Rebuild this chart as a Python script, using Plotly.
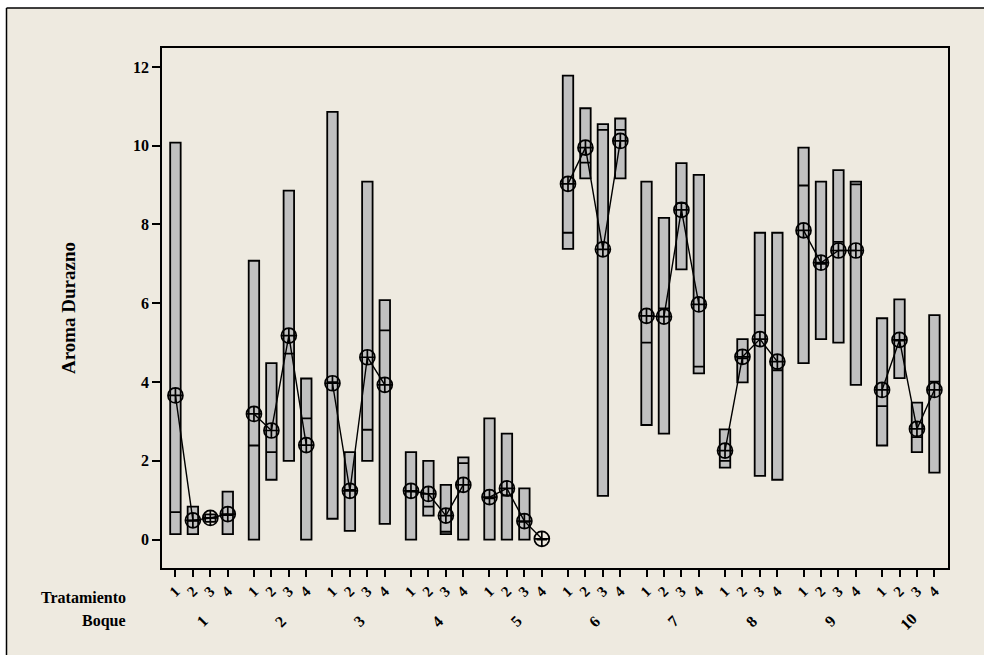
import plotly.graph_objects as go

# ---- data ----
boques = ["1", "2", "3", "4", "5", "6", "7", "8", "9", "10"]
tratamientos = ["1", "2", "3", "4"]

# per Boque, per Tratamiento: box low (Q1/min), median, box high (Q3/max), mean
low = [
    [0.14, 0.14, 0.45, 0.14],
    [0.00, 1.52, 2.00, 0.00],
    [0.53, 0.22, 2.00, 0.40],
    [0.00, 0.61, 0.14, 0.00],
    [0.00, 0.00, 0.00, 0.00],
    [7.38, 9.17, 1.11, 9.17],
    [2.91, 2.69, 6.86, 4.22],
    [1.83, 3.99, 1.62, 1.52],
    [4.48, 5.09, 5.00, 3.93],
    [2.39, 4.10, 2.22, 1.70],
]
median = [
    [0.70, 0.48, 0.55, 0.62],
    [2.39, 2.22, 4.72, 3.08],
    [4.00, 1.26, 2.79, 5.31],
    [1.22, 0.84, 0.20, 1.94],
    [1.05, 1.12, 0.45, 0.00],
    [7.79, 9.57, 10.40, 10.40],
    [5.00, 5.87, 8.54, 4.39],
    [2.00, 4.60, 5.70, 4.30],
    [8.99, 7.00, 7.56, 9.02],
    [3.39, 5.05, 2.60, 4.01],
]
high = [
    [10.08, 0.84, 0.64, 1.22],
    [7.08, 4.48, 8.86, 4.09],
    [10.86, 2.22, 9.09, 6.08],
    [2.22, 2.00, 1.39, 2.09],
    [3.08, 2.69, 1.30, 0.00],
    [11.78, 10.95, 10.55, 10.69],
    [9.09, 8.17, 9.56, 9.26],
    [2.80, 5.09, 7.79, 7.79],
    [9.95, 9.09, 9.38, 9.09],
    [5.62, 6.10, 3.48, 5.70],
]
mean = [
    [3.66, 0.49, 0.55, 0.65],
    [3.19, 2.77, 5.18, 2.40],
    [3.97, 1.24, 4.63, 3.93],
    [1.24, 1.16, 0.61, 1.39],
    [1.08, 1.30, 0.47, 0.02],
    [9.03, 9.95, 7.37, 10.12],
    [5.68, 5.66, 8.37, 5.97],
    [2.26, 4.64, 5.09, 4.52],
    [7.85, 7.03, 7.34, 7.34],
    [3.80, 5.07, 2.81, 3.80],
]
y_ticks = [0, 2, 4, 6, 8, 10, 12]

# ---- layout helpers ----
GROUP_STEP = 4.5
nT = len(tratamientos)
xpos, q1s, meds, q3s, ticktext = [], [], [], [], []
for g in range(len(boques)):
    for k in range(nT):
        xpos.append(g * GROUP_STEP + k)
        q1s.append(low[g][k])
        meds.append(median[g][k])
        q3s.append(high[g][k])
        ticktext.append(tratamientos[k])

FONT = "Liberation Serif"
BEIGE = "#EEEAE0"

fig = go.Figure()
fig.add_trace(go.Box(
    x=xpos, q1=q1s, median=meds, q3=q3s, lowerfence=q1s, upperfence=q3s,
    width=0.6, whiskerwidth=0, fillcolor="#C0C0C0",
    line=dict(color="black", width=1.8), boxpoints=False, showlegend=False,
    hoverinfo="skip",
))

mx, my = [], []
for g in range(len(boques)):
    for k in range(nT):
        mx.append(g * GROUP_STEP + k)
        my.append(mean[g][k])
    mx.append(None)
    my.append(None)
fig.add_trace(go.Scatter(
    x=mx, y=my, mode="lines+markers",
    line=dict(color="black", width=1.4),
    marker=dict(symbol="circle-cross-open", size=15, color="black",
                line=dict(width=1.7, color="black")),
    showlegend=False, connectgaps=False,
))

L, R, T, B = 162, 36, 48, 87
W, H = 984, 655
pw, ph = W - L - R, H - T - B

def px_x(p):
    return (p - L) / pw

def px_y(p):
    return (H - B - p) / ph

annotations = []
for g, name in enumerate(boques):
    annotations.append(dict(
        x=g * GROUP_STEP + (nT - 1) / 2, xref="x", y=px_y(621), yref="paper",
        text=name, showarrow=False, textangle=-45,
        font=dict(family=FONT, size=16, color="black", weight="bold"),
        xanchor="center", yanchor="middle",
    ))
annotations.append(dict(
    x=px_x(128), xref="paper", y=px_y(597), yref="paper", text="Tratamiento",
    showarrow=False, xanchor="right", yanchor="middle",
    font=dict(family=FONT, size=16, color="black", weight="bold"),
))
annotations.append(dict(
    x=px_x(128), xref="paper", y=px_y(621), yref="paper", text="Boque",
    showarrow=False, xanchor="right", yanchor="middle",
    font=dict(family=FONT, size=16, color="black", weight="bold"),
))

shapes = [
    dict(type="rect", xref="paper", yref="paper", layer="below",
         x0=px_x(6.5), x1=px_x(W + 40), y0=px_y(H + 40), y1=px_y(8),
         line=dict(width=0), fillcolor=BEIGE),
    dict(type="line", xref="paper", yref="paper", layer="below",
         x0=px_x(6.5), x1=px_x(W + 40), y0=px_y(8), y1=px_y(8),
         line=dict(color="black", width=1.5)),
    dict(type="line", xref="paper", yref="paper", layer="below",
         x0=px_x(6.5), x1=px_x(6.5), y0=px_y(8), y1=px_y(H + 40),
         line=dict(color="black", width=1.5)),
]

fig.update_layout(
    width=W, height=H,
    margin=dict(l=L, r=R, t=T, b=B, pad=0),
    paper_bgcolor="white", plot_bgcolor="white",
    showlegend=False,
    annotations=annotations, shapes=shapes,
    xaxis=dict(
        range=[-0.77, (len(boques) - 1) * GROUP_STEP + nT - 1 + 0.78],
        tickvals=xpos, ticktext=ticktext, tickangle=-45,
        ticks="outside", ticklen=7, tickwidth=1.5, tickcolor="black",
        tickfont=dict(family=FONT, size=15, color="black", weight="bold"),
        showgrid=False, zeroline=False,
        showline=True, linecolor="black", linewidth=1.5, mirror=True,
    ),
    yaxis=dict(
        range=[-0.72, 12.48], tickvals=y_ticks,
        ticks="outside", ticklen=8, tickwidth=1.5, tickcolor="black",
        tickfont=dict(family=FONT, size=16, color="black", weight="bold"),
        showgrid=False, zeroline=False,
        showline=True, linecolor="black", linewidth=1.5, mirror=True,
        title=dict(text="Aroma Durazno", standoff=52,
                   font=dict(family=FONT, size=19, color="black", weight="bold")),
    ),
)

fig.write_html(
    "out.html",
    config={"displayModeBar": False},
    post_script="document.body.style.margin='0';document.body.style.overflow='hidden';",
)
